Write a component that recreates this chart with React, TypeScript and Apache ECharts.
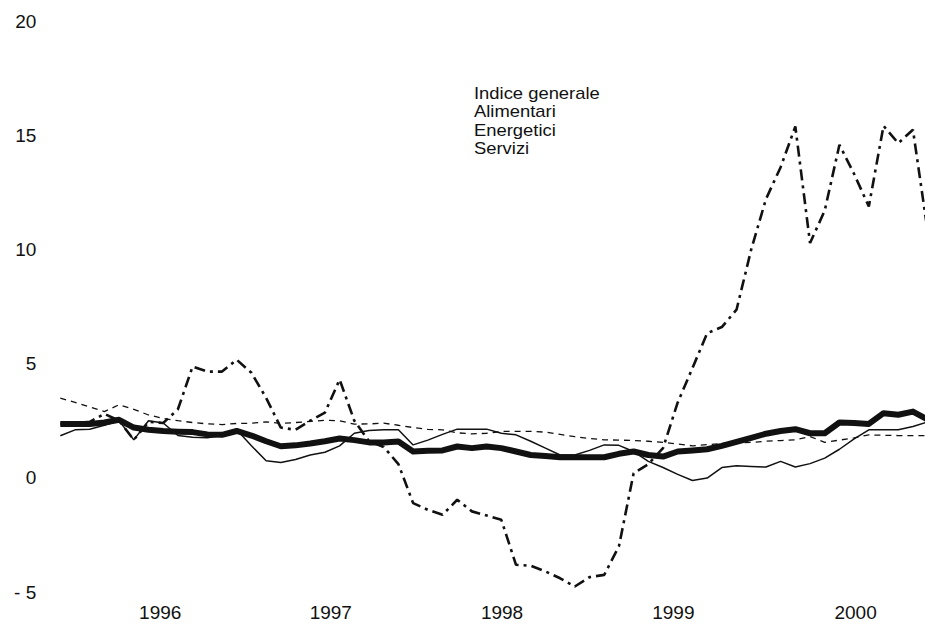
import React, { useEffect, useRef } from "react";
import * as echarts from "echarts";

// Monthly data, Jan 1996 onward (index 0..59)
const indiceGenerale = [
  2.36, 2.36, 2.36, 2.42, 2.54, 2.2, 2.1, 2.05, 2.02, 2.0,
  1.9, 1.88, 2.05, 1.85, 1.6, 1.38, 1.42, 1.5, 1.6, 1.72,
  1.65, 1.55, 1.55, 1.59, 1.15, 1.18, 1.2, 1.37, 1.3, 1.37,
  1.3, 1.15, 1.0, 0.95, 0.9, 0.9, 0.9, 0.9, 1.05, 1.15,
  1.0, 0.93, 1.15, 1.2, 1.25, 1.4, 1.57, 1.75, 1.93, 2.05,
  2.13, 1.95, 1.95, 2.42, 2.4, 2.36, 2.83, 2.76, 2.9, 2.55,
];
const alimentari = [
  1.84, 2.1, 2.13, 2.3, 2.5, 1.66, 2.5, 2.4, 1.85, 1.78,
  1.75, 1.85, 2.1, 1.4, 0.75, 0.67, 0.8, 1.0, 1.12, 1.4,
  1.95, 2.07, 2.1, 2.1, 1.44, 1.65, 1.9, 2.13, 2.13, 2.13,
  1.95, 1.88, 1.6, 1.3, 1.0, 1.0, 1.2, 1.44, 1.42, 1.15,
  0.72, 0.45, 0.15, -0.12, -0.01, 0.45, 0.53, 0.5, 0.47, 0.72,
  0.47, 0.62, 0.86, 1.25, 1.7, 2.1, 2.1, 2.1, 2.25, 2.45,
];
const energetici = [
  2.36, 2.4, 2.45, 2.8, 2.5, 1.66, 2.45, 2.4, 3.0, 4.87,
  4.65, 4.65, 5.17, 4.6, 3.5, 2.2, 2.1, 2.5, 2.85, 4.3,
  2.5, 1.6, 1.35, 0.6, -1.11, -1.4, -1.62, -0.96, -1.47, -1.65,
  -1.84, -3.81, -3.85, -4.1, -4.4, -4.76, -4.35, -4.25, -3.0, 0.2,
  0.6, 1.3, 3.3, 4.8, 6.33, 6.6, 7.36, 10.0, 12.2, 13.6,
  15.38, 10.28, 11.7, 14.58, 13.3, 11.88, 15.41, 14.65, 15.24, 10.8,
];
const servizi = [
  3.49, 3.3, 3.1, 2.9, 3.2, 3.0, 2.75, 2.6, 2.5, 2.42,
  2.36, 2.33, 2.38, 2.39, 2.45, 2.38, 2.42, 2.47, 2.52, 2.5,
  2.35, 2.36, 2.39, 2.3, 2.2, 2.12, 2.1, 1.97, 1.92, 1.95,
  2.03, 2.03, 2.03, 2.0, 1.9, 1.8, 1.72, 1.66, 1.65, 1.63,
  1.6, 1.55, 1.48, 1.4, 1.45, 1.5, 1.52, 1.55, 1.6, 1.63,
  1.66, 1.81, 1.55, 1.65, 1.75, 1.88, 1.86, 1.85, 1.85, 1.84,
];

const seriesNames = ["Indice generale", "Alimentari", "Energetici", "Servizi"];
const yearLabels = ["1996", "1997", "1998", "1999", "2000"];
const yearLabelPos = [6.8, 18.4, 30.05, 41.7, 54.1];

const INK = "#111111";
const FONT = "'Liberation Sans', Arial, Helvetica, sans-serif";

export default function App() {
  const ref = useRef<HTMLDivElement>(null);
  useEffect(() => {
    if (!ref.current) return;
    const chart = echarts.init(ref.current, null, { renderer: "svg" });
    const toPairs = (arr: number[]) => arr.map((v, i) => [i, v]);
    const legendY = [94, 112.5, 131, 149.5];
    chart.setOption({
      animation: false,
      backgroundColor: "#ffffff",
      grid: { left: 60.3, right: 0.3, top: 21, bottom: 52, containLabel: false },
      xAxis: {
        type: "value",
        min: 0,
        max: 58.8,
        axisLine: { show: false },
        axisTick: { show: false },
        splitLine: { show: false },
        axisLabel: {
          customValues: yearLabelPos,
          formatter: (v: number) => {
            const idx = yearLabelPos.findIndex((p) => Math.abs(p - v) < 0.01);
            return idx >= 0 ? yearLabels[idx] : "";
          },
          color: INK,
          fontSize: 19,
          fontFamily: FONT,
          margin: 11,
        },
      },
      yAxis: {
        type: "value",
        min: -5,
        max: 20,
        interval: 5,
        axisLine: { show: false },
        axisTick: { show: false },
        splitLine: { show: false },
        axisLabel: {
          formatter: (v: number) => (v < 0 ? "- " + Math.abs(v) : String(v)),
          color: INK,
          fontSize: 19,
          fontFamily: FONT,
          margin: 24,
        },
      },
      graphic: seriesNames.map((name, i) => ({
        type: "text",
        left: 474,
        top: legendY[i] - 9,
        scaleX: 1.15,
        style: {
          text: name,
          fill: INK,
          fontSize: 16,
          fontFamily: FONT,
        },
      })),
      series: [
        {
          name: seriesNames[3],
          type: "line",
          data: toPairs(servizi),
          symbol: "none",
          z: 2,
          lineStyle: { color: INK, width: 1.3, type: [6, 5] },
        },
        {
          name: seriesNames[1],
          type: "line",
          data: toPairs(alimentari),
          symbol: "none",
          z: 3,
          lineStyle: { color: INK, width: 1.5 },
        },
        {
          name: seriesNames[2],
          type: "line",
          data: toPairs(energetici),
          symbol: "none",
          z: 4,
          lineStyle: { color: INK, width: 2.6, type: [11, 5, 3, 5] },
        },
        {
          name: seriesNames[0],
          type: "line",
          data: toPairs(indiceGenerale),
          symbol: "none",
          z: 5,
          lineStyle: { color: INK, width: 6, join: "round" },
        },
      ],
    });
    return () => chart.dispose();
  }, []);
  return (
    <div
      ref={ref}
      style={{ position: "fixed", left: 0, top: 0, width: 925, height: 644, background: "#fff" }}
    />
  );
}
